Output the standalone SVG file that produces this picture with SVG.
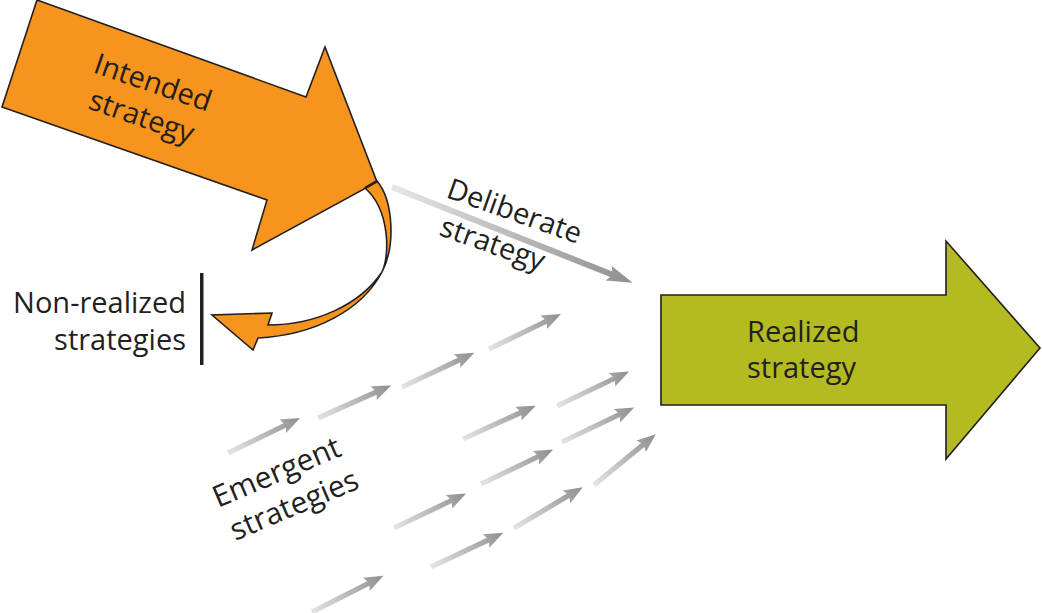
<svg xmlns="http://www.w3.org/2000/svg" xmlns:xlink="http://www.w3.org/1999/xlink" width="1042" height="613" viewBox="0 0 1042 613">
<style>
.lbl{font-family:"Open Sans","Noto Sans",sans-serif;font-size:29px;fill:#231f20}
.shape{stroke:#231f20;stroke-width:1.6;stroke-linejoin:miter}
</style>
<defs>
<linearGradient id="gs" gradientUnits="userSpaceOnUse" x1="0" y1="0" x2="80" y2="0">
<stop offset="0" stop-color="#e4e4e4"/>
<stop offset="1" stop-color="#8f8f8f"/>
</linearGradient>
<linearGradient id="gd" gradientUnits="userSpaceOnUse" x1="0" y1="0" x2="259" y2="0">
<stop offset="0" stop-color="#e6e6e6"/>
<stop offset="1" stop-color="#8f8f8f"/>
</linearGradient>
<g id="sa">
<polygon points="0,-2.6 63,-2.6 61,-7.5 80,0 61,7.5 63,2.6 0,2.6" fill="url(#gs)"/>
</g>
</defs>
<rect width="1042" height="613" fill="#ffffff"/>

<g id="nonrealized">
<path class="shape" fill="#f7941d" d="M377,181 C393,200 396,245 382,272 C362,310 315,335 258,338 L253,350 L212,315 L272,313 L268,325 C315,325 360,305 382,272 C390,255 390,210 365,188 Z"/>
<rect x="200" y="273" width="3.5" height="92" fill="#231f20"/>
<text class="lbl" text-anchor="end" x="186" y="313">Non-realized</text>
<text class="lbl" text-anchor="end" x="186" y="350">strategies</text>
</g>

<g id="intended">
<polygon class="shape" fill="#f7941d" points="37,0 306,97 325,47 377,182 252,250 267,200 2,107"/>
<line x1="365" y1="188" x2="377" y2="181" stroke="#231f20" stroke-width="2.5"/>
<g transform="translate(92,72) rotate(19)">
<text class="lbl" x="0" y="0">Intended</text>
<text class="lbl" x="7" y="36">strategy</text>
</g>
</g>

<g id="realized">
<polygon class="shape" fill="#b3bb21" points="661,295 946,295 946,241 1040,348 946,459 946,405 661,405"/>
<text class="lbl" x="747" y="342">Realized</text>
<text class="lbl" x="747" y="378">strategy</text>
</g>

<g id="connectors">
<g id="deliberate">
<g transform="translate(392,187) rotate(21.7)">
<polygon points="0,-3 236,-3 233,-8 259,0 233,8 236,3 0,3" fill="url(#gd)"/>
</g>
<g transform="translate(445,197) rotate(19.5)">
<text class="lbl" x="0" y="0">Deliberate</text>
<text class="lbl" x="6" y="38">strategy</text>
</g>
</g>
<g id="emergent">
<use xlink:href="#sa" transform="translate(228,453) rotate(-25.9)"/>
<use xlink:href="#sa" transform="translate(318,418) rotate(-24)"/>
<use xlink:href="#sa" transform="translate(402,387) rotate(-25.3)"/>
<use xlink:href="#sa" transform="translate(489,349) rotate(-25.9)"/>
<use xlink:href="#sa" transform="translate(557,406) rotate(-25.6)"/>
<use xlink:href="#sa" transform="translate(463,439) rotate(-24.6)"/>
<use xlink:href="#sa" transform="translate(562,442) rotate(-25.6)"/>
<use xlink:href="#sa" transform="translate(481,484) rotate(-25.6)"/>
<use xlink:href="#sa" transform="translate(594,485) rotate(-39.4)"/>
<use xlink:href="#sa" transform="translate(394,528) rotate(-25.6)"/>
<use xlink:href="#sa" transform="translate(514,528) rotate(-30.7)"/>
<use xlink:href="#sa" transform="translate(431,567) rotate(-25.3)"/>
<use xlink:href="#sa" transform="translate(312,612) rotate(-26.9)"/>
<g transform="translate(218,508) rotate(-23)">
<text class="lbl" x="0" y="0" style="font-size:30px">Emergent</text>
<text class="lbl" x="3" y="37" style="font-size:30px">strategies</text>
</g>
</g>
</g>
</svg>
